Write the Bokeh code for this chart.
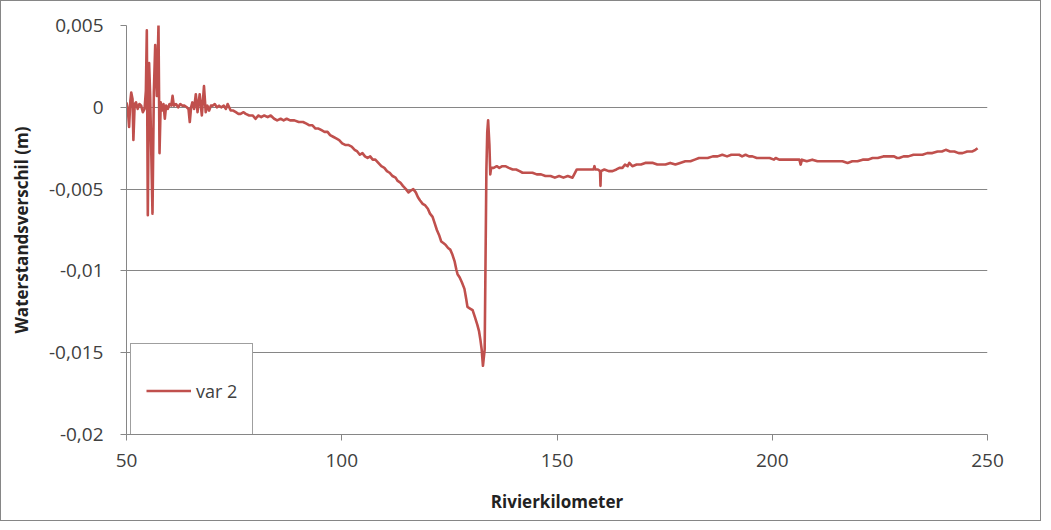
from bokeh.plotting import figure
from bokeh.models import Range1d, FixedTicker, Legend, LegendItem, ColumnDataSource
from bokeh.embed import file_html
from bokeh.resources import INLINE

# ---- data ----
km = [
    50.0, 50.3, 50.6, 50.9, 51.1, 51.4, 51.6, 51.9, 52.2, 52.6, 53.0, 53.4, 53.8, 54.2, 54.5,
    54.72, 54.95, 55.25, 55.5, 56.04, 56.35, 56.67, 57.05, 57.43, 57.67, 57.95, 58.2, 58.6, 58.9,
    59.2, 59.6, 60.0, 60.4, 60.7, 61.0, 61.5, 62.0, 62.5, 63.0, 63.5, 64.0, 64.4, 64.7, 65.0,
    65.3, 65.7, 66.1, 66.5, 67.0, 67.5, 68.0, 68.4, 68.8, 69.2, 69.6, 70.0, 70.5, 71.0, 71.5,
    72.0, 72.6, 73.1, 73.5, 74.2, 74.8, 75.4, 76.0, 76.5, 77.2, 77.7, 78.5, 79.3, 80.0, 80.6,
    81.3, 82.0, 82.8, 83.5, 84.3, 85.0, 85.8, 86.5, 87.2, 88.0, 89.0, 90.0, 91.0, 91.8, 92.5,
    93.2, 93.9, 94.6, 95.3, 96.0, 96.7, 97.3, 98.0, 98.7, 99.4, 100.1, 100.8, 101.5, 102.3,
    103.0, 103.6, 104.2, 104.8, 105.4, 106.0, 106.6, 107.2, 107.8, 108.5, 109.2, 109.9, 110.5,
    111.1, 111.8, 112.5, 113.0, 113.6, 114.2, 114.9, 115.5, 116.0, 116.6, 117.2, 117.7, 118.2,
    118.8, 119.4, 120.0, 120.5, 121.1, 121.6, 122.1, 122.6, 123.1, 123.6, 124.1, 124.7, 125.2,
    125.7, 126.2, 126.6, 126.9, 127.4, 127.9, 128.5, 128.9, 129.2, 129.8, 130.4, 130.9, 131.5,
    131.9, 132.2, 132.5, 132.8, 133.2, 133.6, 133.8, 134.0, 134.3, 134.5, 134.7, 135.3, 136.0,
    136.6, 137.3, 138.0, 138.8, 139.7, 140.5, 141.3, 142.0, 143.0, 144.3, 145.3, 146.3, 147.3,
    148.5, 149.5, 150.5, 151.5, 152.5, 153.6, 154.0, 154.6, 155.5, 156.5, 157.5, 158.5, 158.7,
    158.9, 159.5, 160.0, 160.1, 160.2, 161.0, 162.0, 162.9, 163.8, 164.5, 165.2, 165.8, 166.4,
    166.8, 167.5, 168.5, 169.5, 170.5, 171.4, 172.3, 173.3, 174.2, 175.2, 176.3, 177.5, 178.6,
    179.8, 181.0, 182.0, 183.0, 184.0, 185.0, 186.2, 187.3, 188.4, 189.5, 190.5, 191.4, 192.3,
    193.0, 193.8, 194.6, 195.4, 196.4, 197.4, 198.4, 199.4, 200.4, 200.8, 201.6, 202.7, 203.9,
    205.0, 206.3, 206.6, 206.9, 208.0, 209.3, 210.5, 211.7, 213.0, 214.5, 216.3, 217.5, 218.6,
    219.8, 221.0, 222.2, 223.3, 224.5, 225.8, 227.2, 228.3, 229.0, 229.5, 230.5, 231.6, 232.8,
    234.0, 234.9, 236.0, 237.2, 238.4, 239.4, 240.3, 241.3, 242.3, 243.3, 244.2, 245.3, 246.5,
    247.2, 247.7,
]
verschil = [
    0.0003, -0.0001, -0.0012, 0.0004, 0.0009, 0.0005, -0.0020, 0.0002, 0.0003, -0.0001, 0.0002,
    0.0001, -0.0003, -0.0001, 0.0010,
    0.0047, -0.0066, 0.0027, 0.0007, -0.0065, 0.0009, 0.0038, 0.0007, 0.0050, -0.0028, 0.0003,
    -0.0002, 0.0002, -0.0007,
    0.0001, -0.0001, 0.0002, 0.0001, 0.0007, 0.0001, 0.0002, 0.0000, 0.0002, 0.0001, 0.0001,
    0.0000, -0.0001, -0.0009, 0.0000,
    0.0003, -0.0001, 0.0008, -0.0003, 0.0008, -0.0005, 0.0013, -0.0003, 0.0001, -0.0002, 0.0001,
    0.0001, 0.0002, 0.0000, 0.0001,
    0.0000, 0.0001, -0.0001, 0.0002, -0.0002, -0.0002, -0.0003, -0.0004, -0.0004, -0.0003,
    -0.0004, -0.0005, -0.0005, -0.0007, -0.0005,
    -0.0006, -0.0005, -0.0006, -0.0005, -0.0007, -0.0008, -0.0007, -0.0008, -0.0007, -0.0008,
    -0.0008, -0.0009, -0.0009, -0.0010, -0.0011,
    -0.0011, -0.0013, -0.0013, -0.0014, -0.0015, -0.0015, -0.0017, -0.0018, -0.0019, -0.0020,
    -0.0022, -0.0023, -0.0023, -0.0024,
    -0.0026, -0.0027, -0.0029, -0.0028, -0.0030, -0.0031, -0.0030, -0.0032, -0.0032, -0.0034,
    -0.0036, -0.0037, -0.0039,
    -0.0040, -0.0042, -0.0043, -0.0045, -0.0046, -0.0048, -0.0050, -0.0052, -0.0051, -0.0050,
    -0.0052, -0.0055, -0.0057,
    -0.0059, -0.0060, -0.0062, -0.0065, -0.0067, -0.0071, -0.0075, -0.0078, -0.0082, -0.0083,
    -0.0084, -0.0086, -0.0087,
    -0.0090, -0.0094, -0.0099, -0.0102, -0.0104, -0.0107, -0.0111, -0.0117, -0.0122, -0.0123,
    -0.0124, -0.0128, -0.0133,
    -0.0137, -0.0142, -0.0148, -0.0158, -0.0148, -0.0038, -0.0015, -0.0008, -0.0023, -0.0041,
    -0.0037, -0.0037, -0.0036,
    -0.0037, -0.0036, -0.0036, -0.0037, -0.0038, -0.0038, -0.0039, -0.0040, -0.0040, -0.0040,
    -0.0041, -0.0041, -0.0042,
    -0.0042, -0.0043, -0.0042, -0.0043, -0.0042, -0.0043, -0.0041, -0.0038, -0.0038, -0.0038,
    -0.0038, -0.0038, -0.0036,
    -0.0038, -0.0038, -0.0039, -0.0048, -0.0039, -0.0038, -0.0039, -0.0039, -0.0038, -0.0037,
    -0.0037, -0.0035, -0.0036,
    -0.0034, -0.0036, -0.0035, -0.0035, -0.0034, -0.0034, -0.0034, -0.0035, -0.0035, -0.0035,
    -0.0034, -0.0035, -0.0034,
    -0.0033, -0.0033, -0.0032, -0.0031, -0.0031, -0.0031, -0.0030, -0.0030, -0.0029, -0.0030,
    -0.0029, -0.0029, -0.0029,
    -0.0030, -0.0029, -0.0030, -0.0030, -0.0031, -0.0031, -0.0031, -0.0031, -0.0032, -0.0031,
    -0.0032, -0.0032, -0.0032,
    -0.0032, -0.0032, -0.0035, -0.0032, -0.0033, -0.0032, -0.0033, -0.0033, -0.0033, -0.0033,
    -0.0033, -0.0034, -0.0033,
    -0.0033, -0.0032, -0.0032, -0.0031, -0.0031, -0.0030, -0.0030, -0.0030, -0.0031, -0.0031,
    -0.0030, -0.0030, -0.0029,
    -0.0029, -0.0029, -0.0028, -0.0028, -0.0027, -0.0027, -0.0026, -0.0027, -0.0027, -0.0028,
    -0.0028, -0.0027, -0.0027,
    -0.0026, -0.0025,
]
series_name = "var 2"
x_ticks = [50, 100, 150, 200, 250]
y_ticks = [-0.02, -0.015, -0.01, -0.005, 0.0, 0.005]
y_tick_labels = ["-0,02", "-0,015", "-0,01", "-0,005", "0", "0,005"]
x_title = "Rivierkilometer"
y_title = "Waterstandsverschil (m)"

assert len(km) == len(verschil)

FONT = "Open Sans"
GRID = "#868686"
TEXT = "#404040"
RED = "#C0504D"

p = figure(
    width=1041, height=521,
    output_backend="svg", toolbar_location=None,
    x_range=Range1d(50, 250), y_range=Range1d(-0.02, 0.005),
    min_border_left=125, min_border_right=55, min_border_top=24, min_border_bottom=88,
)
p.styles = {"border": "1px solid #868686"}
p.outline_line_color = None
p.background_fill_color = "white"
p.border_fill_color = "white"

src = ColumnDataSource(dict(km=km, v=verschil))
r = p.line("km", "v", source=src, line_color=RED, line_width=2.6, line_join="round")

# axes
p.xaxis.ticker = FixedTicker(ticks=x_ticks)
p.yaxis.ticker = FixedTicker(ticks=y_ticks)
p.yaxis.major_label_overrides = {t: s for t, s in zip(y_ticks, y_tick_labels)}
for ax in (p.xaxis[0], p.yaxis[0]):
    ax.axis_line_color = GRID
    ax.major_tick_line_color = GRID
    ax.major_tick_in = 0
    ax.major_tick_out = 6
    ax.minor_tick_line_color = None
    ax.major_label_text_font = FONT
    ax.major_label_text_font_size = "19px"
    ax.major_label_text_color = TEXT
    ax.axis_label_text_font = FONT
    ax.axis_label_text_font_size = "17px"
    ax.axis_label_text_font_style = "bold"
    ax.axis_label_text_color = "#222222"
p.xaxis.axis_label = x_title
p.yaxis.axis_label = y_title
p.xaxis.major_label_standoff = 13
p.yaxis.major_label_standoff = 17
p.xaxis.axis_label_standoff = 20
p.yaxis.axis_label_standoff = 13

p.xgrid.grid_line_color = None
p.ygrid.grid_line_color = GRID
p.ygrid.grid_line_width = 1

legend = Legend(
    items=[LegendItem(label=series_name, renderers=[r])],
    location=(4, -4),
    margin=0,
    padding=15,
    glyph_width=45,
    glyph_height=63,
    label_height=63,
    label_standoff=5,
    label_text_font=FONT,
    label_text_font_size="18px",
    label_text_color=TEXT,
    border_line_color="#3f3f3f",
    border_line_width=1,
    background_fill_color="white",
    background_fill_alpha=1.0,
)
p.add_layout(legend, "center")

open("out.html", "w").write(file_html(p, INLINE))
